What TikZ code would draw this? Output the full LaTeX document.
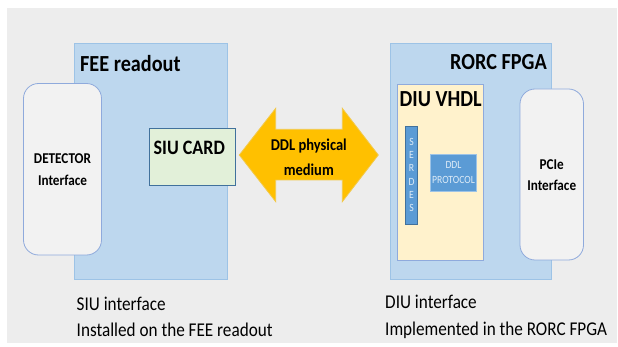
\documentclass[tikz,border=0pt]{standalone}
\usepackage{fontspec}
\setmainfont{Carlito}[FakeStretch=0.88]
\definecolor{bggray}{HTML}{EDEDED}
\definecolor{boxblue}{HTML}{BDD7EE}
\definecolor{boxblueedge}{HTML}{9DC3E6}
\definecolor{ifacefill}{HTML}{F2F2F2}
\definecolor{ifaceedge}{HTML}{8FAADC}
\definecolor{siufill}{HTML}{E2F0D9}
\definecolor{darkedge}{HTML}{41719C}
\definecolor{diufill}{HTML}{FFF2CC}
\definecolor{steel}{HTML}{5B9BD5}
\definecolor{lighttext}{HTML}{DDEBF7}
\definecolor{arrowfill}{HTML}{FFC000}
\definecolor{arrowedge}{HTML}{F2C94C}
\tikzset{
  card/.style={fill=boxblue, draw=boxblueedge, line width=0.8pt},
  iface/.style={fill=ifacefill, draw=ifaceedge, line width=0.8pt, rounded corners=15pt},
  bigtitle/.style={font=\bfseries\fontsize{23}{27}\selectfont, inner sep=0pt},
  smalltxt/.style={font=\bfseries\fontsize{15}{21.5}\selectfont, align=center, inner sep=0pt},
  caption/.style={font=\fontsize{19.5}{23}\selectfont, inner sep=0pt, anchor=base west},
}
\begin{document}
\begin{tikzpicture}[x=1pt,y=-1pt]
\useasboundingbox (0,0) rectangle (618,347);
\fill[bggray] (7,8) rectangle (617,343);
% FEE readout
\draw[card] (74.5,43) rectangle (227,279);
\node[bigtitle, anchor=base west] (feetitle) at (80,71.5) {FEE readout};
\draw[iface] (23.5,83.5) rectangle (101.5,255);
\coordinate (detc) at (62.5,169.5);
\node[smalltxt] (dettext) at (detc) {DETECTOR\\Interface};
\draw[fill=siufill, draw=darkedge, line width=0.8pt] (149.5,128.5) rectangle (235.5,185);
\node[font=\bfseries\fontsize{20.5}{24}\selectfont, inner sep=0pt, anchor=base west] (siutext) at (153.5,155) {SIU CARD};
% RORC FPGA
\draw[card] (390,43) rectangle (551,279);
\node[bigtitle, anchor=base east] (rorctitle) at (547,70) {RORC FPGA};
\draw[fill=diufill, draw=ifaceedge, line width=0.8pt] (397.5,84.5) rectangle (483.5,260);
\node[bigtitle, anchor=base west] (diutitle) at (399.5,106.5) {DIU VHDL};
\draw[fill=steel, draw=darkedge, line width=0.6pt] (405.5,126) rectangle (417.5,224);
\node[font=\fontsize{11}{13.2}\selectfont, text=lighttext, align=center, inner sep=0pt] (serdes) at (411.5,175) {S\\E\\R\\D\\E\\S};
\draw[fill=steel, draw=boxblueedge, line width=0.6pt] (430.5,154) rectangle (476.5,191);
\node[font=\fontsize{11}{14.5}\selectfont, text=lighttext, align=center, inner sep=0pt] (proto) at (453.5,172.5) {DDL\\PROTOCOL};
\draw[iface] (520,89) rectangle (583.5,260);
\node[smalltxt] (pcietext) at (551.7,175) {PCIe\\Interface};
% double arrow
\draw[fill=arrowfill, draw=arrowedge, line width=0.8pt, line join=miter]
  (239.3,155) -- (275.7,108.3) -- (275.7,129.3) -- (342.3,129.3) -- (342.3,108.3)
  -- (378.3,155) -- (342.3,201.7) -- (342.3,180) -- (275.7,180) -- (275.7,201.7) -- cycle;
\node[font=\bfseries\fontsize{16.5}{25}\selectfont, align=center, inner sep=0pt] (ddl) at (308.8,157) {DDL physical\\medium};
% captions
\node[caption] (cap1) at (76.5,310) {SIU interface};
\node[caption] (cap2) at (76.5,336.5) {Installed on the FEE readout};
\node[caption] (cap3) at (385,308) {DIU interface};
\node[caption] (cap4) at (385,335) {Implemented in the RORC FPGA};
\end{tikzpicture}
\end{document}
